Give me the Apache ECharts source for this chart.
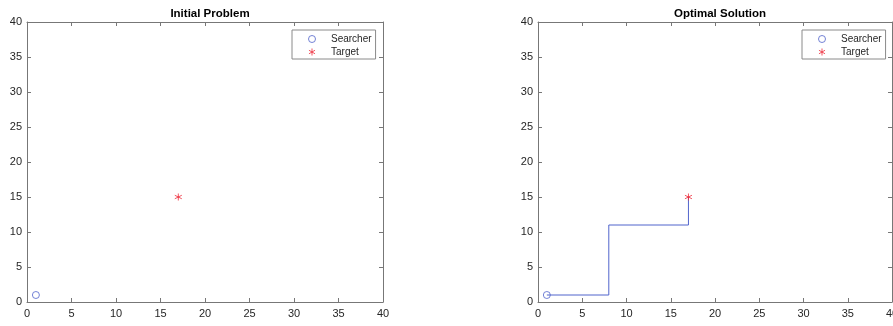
<!DOCTYPE html>
<html>
<head>
<meta charset="utf-8">
<script src="https://cdn.jsdelivr.net/npm/echarts@6/dist/echarts.min.js"></script>
<style>
  html, body { margin: 0; padding: 0; background: #fff; }
  #chart { width: 893px; height: 326px; }
</style>
</head>
<body>
<div id="chart"></div>
<script>
// Search problem: start point, target point and the step path found between them
const titles = ['Initial Problem', 'Optimal Solution'];
const searcherPos = [[1, 1]];
const targetPos = [[17, 15]];
const pathX = [1, 8, 8, 17, 17];
const pathY = [1, 1, 11, 11, 15];
const axisTicks = [0, 5, 10, 15, 20, 25, 30, 35, 40];

const pathPoints = pathX.map((x, i) => [x, pathY[i]]);

const AXIS_COLOR = '#777777';
const TEXT_COLOR = '#262626';
const BLUE = '#5164cc';
const RED = '#ee2a3a';
const FONT = 'Liberation Sans, Arial, Helvetica, sans-serif';
const ASTERISK = 'path://M0,-10 L0,10 M-8.66,-5 L8.66,5 M-8.66,5 L8.66,-5';
const RING = 'path://M10,0 A10,10 0 1 1 -10,0 A10,10 0 1 1 10,0 Z';

const grids = [
  { left: 27, top: 22, width: 356, height: 280, outerBoundsMode: 'none', containLabel: false },
  { left: 538, top: 22, width: 354, height: 280, outerBoundsMode: 'none', containLabel: false }
];

function mainAxis(gridIndex, position) {
  return {
    type: 'value', gridIndex, position,
    min: axisTicks[0], max: axisTicks[axisTicks.length - 1], interval: 5,
    axisLine: { show: true, onZero: false, lineStyle: { color: AXIS_COLOR, width: 1 } },
    axisTick: { show: true, inside: true, length: 4, lineStyle: { color: AXIS_COLOR } },
    axisLabel: { show: true, color: TEXT_COLOR, fontFamily: FONT, fontSize: 11, margin: position === 'bottom' ? 6 : 5 },
    splitLine: { show: false }
  };
}
function boxAxis(gridIndex, position) {
  const a = mainAxis(gridIndex, position);
  a.axisLabel = { show: false };
  return a;
}

const xAxis = [], yAxis = [];
grids.forEach((g, i) => {
  xAxis.push(mainAxis(i, 'bottom'));
  xAxis.push(boxAxis(i, 'top'));
  yAxis.push(mainAxis(i, 'left'));
  yAxis.push(boxAxis(i, 'right'));
});

function legendFor(left) {
  return {
    left, top: 30, orient: 'vertical',
    data: [
      { name: 'Searcher', icon: RING, itemStyle: { color: 'none', borderColor: BLUE, borderWidth: 1 } },
      { name: 'Target', icon: ASTERISK, itemStyle: { color: 'none', borderColor: RED, borderWidth: 1 } }
    ],
    itemWidth: 28, itemHeight: 7, itemGap: 1,
    padding: [3, 4, 1, 14],
    borderColor: '#8a8a8a', borderWidth: 1, borderRadius: 0, backgroundColor: '#ffffff',
    textStyle: { color: TEXT_COLOR, fontFamily: FONT, fontSize: 10, lineHeight: 12 },
    selectedMode: false
  };
}

function searcherSeries(xi, yi) {
  return {
    name: 'Searcher', type: 'scatter', xAxisIndex: xi, yAxisIndex: yi,
    data: searcherPos, symbol: RING, symbolSize: 7,
    itemStyle: { color: 'none', borderColor: BLUE, borderWidth: 1 },
    z: 5, silent: true
  };
}
function targetSeries(xi, yi) {
  return {
    name: 'Target', type: 'scatter', xAxisIndex: xi, yAxisIndex: yi,
    data: targetPos, symbol: ASTERISK, symbolSize: 7,
    itemStyle: { color: 'none', borderColor: RED, borderWidth: 1 },
    z: 6, silent: true
  };
}

const option = {
  animation: false,
  backgroundColor: '#ffffff',
  title: titles.map((t, i) => ({
    text: t,
    left: grids[i].left + grids[i].width / 2, top: 3, textAlign: 'center',
    textStyle: { fontFamily: FONT, fontSize: 11.5, fontWeight: 'bold', color: '#000000' }
  })),
  grid: grids,
  xAxis, yAxis,
  legend: [legendFor(292), legendFor(802)],
  series: [
    searcherSeries(0, 0),
    targetSeries(0, 0),
    {
      name: 'path', type: 'line', xAxisIndex: 2, yAxisIndex: 2,
      data: pathPoints, showSymbol: false, symbol: 'none',
      lineStyle: { color: BLUE, width: 1 }, z: 4, silent: true
    },
    searcherSeries(2, 2),
    targetSeries(2, 2)
  ]
};

echarts.init(document.getElementById('chart'), null, { renderer: 'canvas' }).setOption(option);
</script>
</body>
</html>
